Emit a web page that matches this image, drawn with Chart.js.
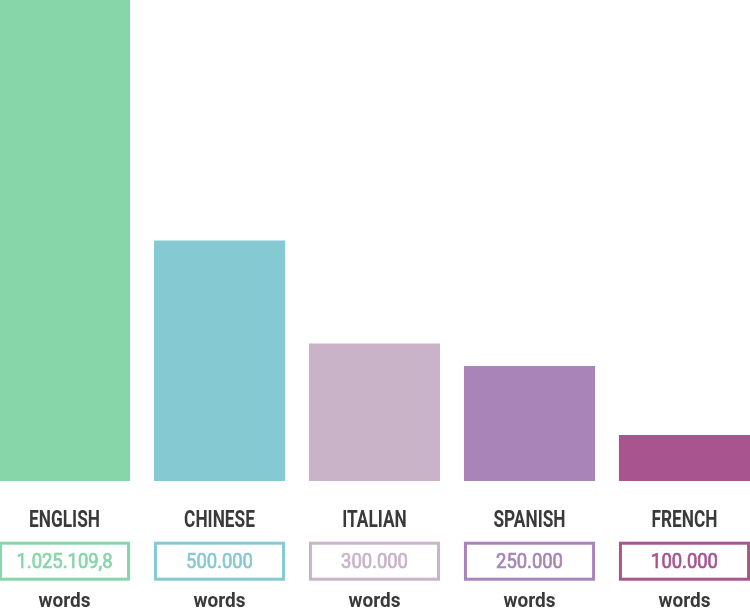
<!DOCTYPE html>
<html>
<head>
<meta charset="utf-8">
<script src="https://cdn.jsdelivr.net/npm/chart.js@4/dist/chart.umd.min.js"></script>
<style>
  html, body { margin: 0; padding: 0; background: #ffffff; }
  #wrap { position: relative; width: 750px; height: 608px; overflow: hidden; }
  #c { position: absolute; left: -13px; top: 0; }
</style>
</head>
<body>
<div id="wrap"><canvas id="c" width="775" height="608"></canvas></div>
<script>
// Data
const categories = ["ENGLISH", "CHINESE", "ITALIAN", "SPANISH", "FRENCH"];
const barValues = [1025109.8, 500000, 286000, 239000, 95600];   // bar heights
const valueLabels = ["1.025.109,8", "500.000", "300.000", "250.000", "100.000"];
const unitLabel = "words";
const yMax = 1000000;

const barColors = ["#86d6aa", "#85c9d2", "#c9b3c8", "#a884b8", "#a8548e"];

const labelPlugin = {
  id: "labelsBelow",
  afterDraw(chart) {
    const ctx = chart.ctx;
    const meta = chart.getDatasetMeta(0);
    meta.data.forEach((el, i) => {
      const x = el.x;
      const w = el.width;
      ctx.save();
      ctx.textAlign = "center";
      ctx.textBaseline = "alphabetic";
      // category name (condensed look)
      ctx.fillStyle = "#3a3a3a";
      ctx.font = "bold 24px Roboto, 'Liberation Sans', sans-serif";
      ctx.save();
      ctx.translate(x, 527);
      ctx.scale(0.72, 1);
      ctx.fillText(categories[i], 0, 0);
      ctx.restore();
      // box
      ctx.strokeStyle = barColors[i];
      ctx.lineWidth = 3;
      ctx.strokeRect(x - w / 2 + 1.5, 543.2, w - 3, 36);
      // value (medium weight look)
      ctx.fillStyle = barColors[i];
      ctx.strokeStyle = barColors[i];
      ctx.lineWidth = 0.7;
      ctx.font = "20px Roboto, 'Liberation Sans', sans-serif";
      ctx.save();
      ctx.translate(x, 567.5);
      ctx.scale(0.92, 1);
      ctx.fillText(valueLabels[i], 0, 0);
      ctx.strokeText(valueLabels[i], 0, 0);
      ctx.restore();
      // unit
      ctx.fillStyle = "#3a3a3a";
      ctx.font = "bold 20px Roboto, 'Liberation Sans', sans-serif";
      ctx.save();
      ctx.translate(x, 607);
      ctx.scale(0.95, 1);
      ctx.fillText(unitLabel, 0, 0);
      ctx.restore();
      ctx.restore();
    });
  }
};

new Chart(document.getElementById("c"), {
  type: "bar",
  data: {
    labels: categories,
    datasets: [{
      data: barValues,
      backgroundColor: barColors,
      borderWidth: 0,
      barPercentage: 0.846,
      categoryPercentage: 1.0,
      clip: 0
    }]
  },
  options: {
    responsive: false,
    animation: false,
    devicePixelRatio: 1,
    layout: { padding: { top: 0, bottom: 127, left: 0, right: 0 } },
    plugins: { legend: { display: false }, tooltip: { enabled: false } },
    scales: {
      x: { display: false },
      y: { display: false, min: 0, max: yMax }
    }
  },
  plugins: [labelPlugin]
});
</script>
</body>
</html>
